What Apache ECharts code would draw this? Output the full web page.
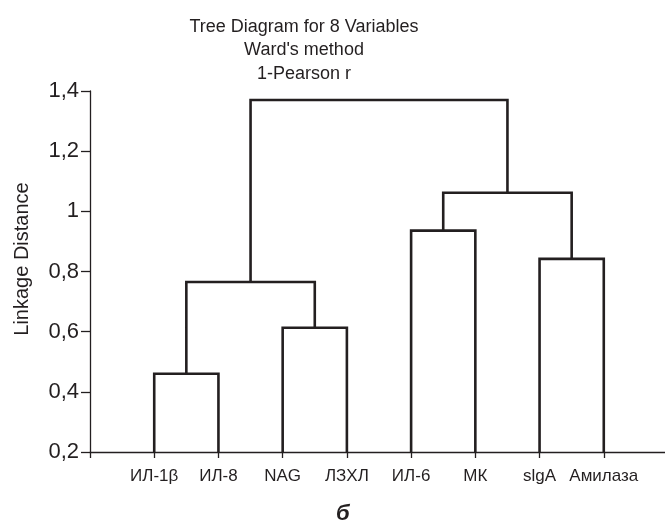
<!DOCTYPE html>
<html>
<head>
<meta charset="utf-8">
<script src="https://cdn.jsdelivr.net/npm/echarts@6/dist/echarts.min.js"></script>
<style>
  html, body { margin: 0; padding: 0; background: #fff; }
  #chart { width: 665px; height: 524px; }
</style>
</head>
<body>
<div id="chart"></div>
<script>
// leaves in dendrogram order
var leaves = ['ИЛ-1β', 'ИЛ-8', 'NAG', 'ЛЗХЛ', 'ИЛ-6', 'МК', 'slgA', 'Амилаза'];
// merges: node 8 is the first merge, 9 the second, ... (0-7 are the leaves)
var mergeA = [0, 2, 8, 4, 6, 11, 10];
var mergeB = [1, 3, 9, 5, 7, 12, 13];
var mergeHeight = [0.46, 0.613, 0.765, 0.936, 0.842, 1.062, 1.37];
var yTicks = [0.2, 1.4, 0.2]; // min, max, interval

var font = 'Liberation Sans, Arial, sans-serif';
var ink = '#231f20';

// position of every node: leaves at 1..8, merged nodes at the middle of children
var nodeX = leaves.map(function (d, i) { return i + 1; });
var nodeH = leaves.map(function () { return yTicks[0]; });
var links = [];
mergeA.forEach(function (a, i) {
  var b = mergeB[i];
  nodeX.push((nodeX[a] + nodeX[b]) / 2);
  nodeH.push(mergeHeight[i]);
  links.push([nodeX[a], nodeH[a], nodeX[b], nodeH[b], mergeHeight[i]]);
});

var chart = echarts.init(document.getElementById('chart'));
chart.setOption({
  animation: false,
  title: {
    text: 'Tree Diagram for 8 Variables\nWard\'s method\n1-Pearson r',
    left: 299,
    top: 10,
    textAlign: 'center',
    textStyle: { fontFamily: font, fontSize: 18, fontWeight: 'normal', color: ink, lineHeight: 23.5 }
  },
  grid: { left: 90, top: 91, width: 578, height: 361, outerBoundsMode: 'none', containLabel: false },
  xAxis: {
    type: 'value',
    min: 0,
    max: 9,
    interval: 1,
    axisLine: { show: true, lineStyle: { color: ink, width: 1.3 } },
    axisTick: { show: true, length: 6, lineStyle: { color: ink, width: 1.3 } },
    splitLine: { show: false },
    axisLabel: {
      margin: 16,
      fontFamily: font,
      fontSize: 17,
      color: ink,
      formatter: function (v) { return leaves[v - 1] || ''; }
    }
  },
  yAxis: {
    type: 'value',
    min: yTicks[0],
    max: yTicks[1],
    interval: yTicks[2],
    axisLine: { show: true, lineStyle: { color: ink, width: 1.3 } },
    axisTick: { show: true, length: 9, lineStyle: { color: ink, width: 1.3 } },
    splitLine: { show: false },
    axisLabel: {
      margin: 11,
      fontFamily: font,
      fontSize: 22,
      color: ink,
      formatter: function (v) { return String(+v.toFixed(1)).replace('.', ','); }
    }
  },
  graphic: [{
    type: 'text',
    x: 22,
    y: 259,
    rotation: Math.PI / 2,
    style: {
      text: 'Linkage Distance', fontFamily: font, fontSize: 20, fill: ink,
      textAlign: 'center', textVerticalAlign: 'middle'
    }
  }, {
    type: 'text',
    left: 336,
    top: 503,
    style: { text: 'б', fontFamily: font, fontSize: 22, fontWeight: 'bold', fontStyle: 'italic', fill: ink }
  }],
  series: [{
    type: 'custom',
    coordinateSystem: 'cartesian2d',
    data: links,
    clip: false,
    renderItem: function (params, api) {
      var p1 = api.coord([api.value(0), api.value(1)]);
      var p2 = api.coord([api.value(0), api.value(4)]);
      var p3 = api.coord([api.value(2), api.value(4)]);
      var p4 = api.coord([api.value(2), api.value(3)]);
      return {
        type: 'polyline',
        shape: { points: [p1, p2, p3, p4] },
        style: { stroke: ink, lineWidth: 2.6, fill: null, lineJoin: 'miter' }
      };
    },
    encode: { x: [0, 2], y: [1, 3, 4] }
  }]
});
</script>
</body>
</html>
